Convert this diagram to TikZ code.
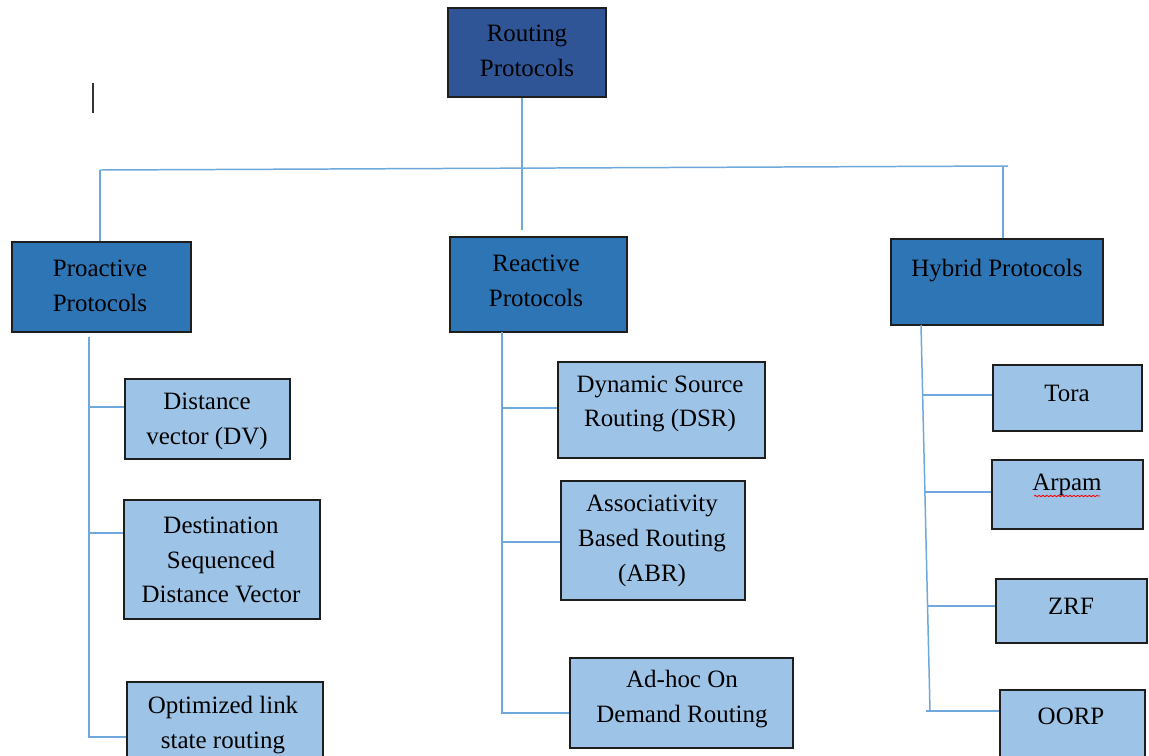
\documentclass[tikz,border=0pt]{standalone}
\usepackage{fontspec}
\setmainfont{Liberation Serif}
\usetikzlibrary{fit,decorations.pathmorphing}

\definecolor{rootblue}{HTML}{2F5597}
\definecolor{catblue}{HTML}{2E75B6}
\definecolor{leafblue}{HTML}{9DC3E6}
\definecolor{wireblue}{HTML}{6FA8DC}
\definecolor{edgegray}{HTML}{1E1E1E}

\tikzset{
  boxbase/.style={draw=edgegray, line width=0.8pt, inner sep=0pt},
  rootbox/.style={boxbase, fill=rootblue},
  catbox/.style={boxbase, fill=catblue},
  leafbox/.style={boxbase, fill=leafblue},
  lbl/.style={align=center, text=black, inner sep=0pt,
    font=\fontsize{14.2}{19.8}\selectfont},
  wire/.style={draw=wireblue, line width=0.85pt},
}

\begin{document}
\begin{tikzpicture}[x=0.02cm, y=-0.02cm]
\clip (0,0) rectangle (1149,755);
\fill[white] (0,0) rectangle (1149,755);

% ---- bus anchor points ----
\coordinate (busL) at (100,170);
\coordinate (busR) at (1008,166);
\coordinate (busM) at (522,168);
\coordinate (busH) at (1003,166);
\coordinate (rootDrop) at (522,230);

% ---- boxes ----
\node[rootbox, fit={(448,8) (606,97)}] (root) {};
\node[catbox, fit={(12,242) (191,332)}] (pro) {};
\node[catbox, fit={(450,237) (627,332)}] (rea) {};
\node[catbox, fit={(891,239) (1103,325)}] (hyb) {};

\node[leafbox, fit={(125,379) (290,459)}] (dv) {};
\node[leafbox, fit={(124,500) (320,619)}] (dsdv) {};
\node[leafbox, fit={(127,682) (323,775)}] (olsr) {};

\node[leafbox, fit={(558,362) (765,458)}] (dsr) {};
\node[leafbox, fit={(561,481) (745,600)}] (abr) {};
\node[leafbox, fit={(570,658) (793,748)}] (aodv) {};

\node[leafbox, fit={(993,365) (1142,431)}] (tora) {};
\node[leafbox, fit={(992,460) (1143,529)}] (arpam) {};
\node[leafbox, fit={(996,579) (1147,643)}] (zrf) {};
\node[leafbox, fit={(1000,690) (1145,775)}] (oorp) {};

% ---- top bus ----
\draw[wire] (root.south -| busM) -- (rootDrop);
\draw[wire] (busL) -- (busR);
\draw[wire] (busL) -- (busL |- pro.north);
\draw[wire] (busH) -- (busH |- hyb.north);

% ---- proactive trunk ----
\coordinate (pT) at (89,337);
\coordinate (pB) at (89,737);
\draw[wire] (pT) -- (pB) -- (pB -| olsr.west);
\draw[wire] (89,407) -- (89,407 -| dv.west);
\draw[wire] (89,533) -- (89,533 -| dsdv.west);

% ---- reactive trunk ----
\coordinate (rT) at (502,332);
\coordinate (rB) at (502,713);
\draw[wire] (rT) -- (rB) -- (rB -| aodv.west);
\draw[wire] (502,408) -- (502,408 -| dsr.west);
\draw[wire] (502,542) -- (502,542 -| abr.west);

% ---- hybrid trunk (slightly slanted) ----
\coordinate (hT) at (921,325);
\coordinate (hB) at (930,711);
\draw[wire] (hT) -- (hB);
\draw[wire] (926,711) -- (926,711 -| oorp.west);
\draw[wire] (923,395) -- (923,395 -| tora.west);
\draw[wire] (925,492) -- (925,492 -| arpam.west);
\draw[wire] (928,606) -- (928,606 -| zrf.west);

% ---- labels ----
\node[lbl] (rootT) at (527,51) {Routing\\Protocols};
\node[lbl] (proT) at (100,286) {Proactive\\Protocols};
\node[lbl] (reaT) at (536,281) {Reactive\\Protocols};
\node[lbl] (hybT) at (997,271) {Hybrid Protocols};

\node[lbl] (dvT) at (207,421) {Distance\\vector (DV)};
\node[lbl] (dsdvT) at (221,560) {Destination\\Sequenced\\Distance Vector};
\node[lbl] (olsrT) at (223,725) {Optimized link\\state routing};

\node[lbl] (dsrT) at (660,404) {Dynamic Source\\Routing (DSR)};
\node[lbl] (abrT) at (652,541) {Associativity\\Based Routing\\(ABR)};
\node[lbl] (aodvT) at (682,699) {Ad-hoc On\\Demand Routing};

\node[lbl] (toraT) at (1067,393) {Tora};
\node[lbl] (arpamT) at (1067,485) {Arpam};
\node[lbl] (zrfT) at (1071,606) {ZRF};
\node[lbl] (oorpT) at (1071,716) {OORP};

% spell-check squiggle under "Arpam"
\draw[red, line width=0.5pt, decorate,
  decoration={snake, amplitude=0.35pt, segment length=2.2pt}]
  (1034,496) -- (1100,496);

% text cursor mark
\draw[black!80, line width=0.9pt] (93,83) -- (93,113);
\end{tikzpicture}
\end{document}
